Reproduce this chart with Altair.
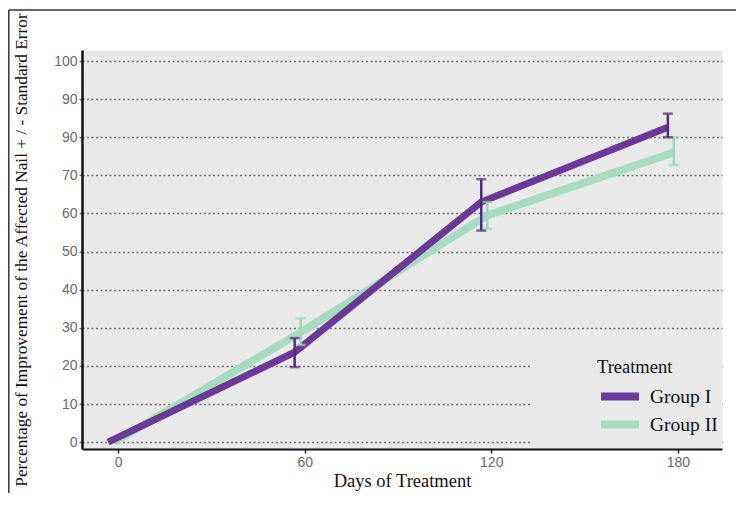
import altair as alt
import pandas as pd

days = [0, 60, 120, 180]
groups = ["Group I", "Group II"]
g1_mean = [0, 23.6, 63, 82.6]
g1_lo = [0, 19.7, 55.5, 80]
g1_hi = [0, 27.3, 69, 86.2]
g2_mean = [0, 28.8, 59.5, 76]
g2_lo = [0, 25.5, 56, 72.7]
g2_hi = [0, 32.5, 63, 80]
y_ticks = [0, 10, 20, 30, 40, 50, 60, 70, 80, 90, 100]
y_tick_labels = ["0", "10", "20", "30", "40", "50", "60", "70", "90", "90", "100"]
x_ticks = [0, 60, 120, 180]

PURPLE = "#6b3a98"
PURPLE_BAR = "#4f2c80"
GREEN = "#a8dcc0"
GREEN_BAR = "#9fd6b8"
BG = "#e9e9e9"

rows = []
for g, m, lo, hi in [("Group I", g1_mean, g1_lo, g1_hi), ("Group II", g2_mean, g2_lo, g2_hi)]:
    for d, a, b, c in zip(days, m, lo, hi):
        rows.append({"day": d, "group": g, "mean": a, "lo": b, "hi": c})
df = pd.DataFrame(rows)

label_expr = " : ".join(
    [f"datum.value == {v} ? '{t}'" for v, t in zip(y_ticks, y_tick_labels)]
) + " : datum.label"

W, H = 640, 399
PAD = {"left": 74, "top": 42, "right": 14, "bottom": 44}

xscale = alt.Scale(domain=[-11.6, 194.2], nice=False, zero=False)
yscale = alt.Scale(domain=[-1.8, 102.9], nice=False, zero=False)

x_axis = alt.Axis(
    values=x_ticks, tickCount=len(x_ticks) + 1, title="Days of Treatment", grid=False,
    labelFont="Liberation Sans", labelFontSize=14, labelColor="#6a6a6a",
    labelPadding=2, tickSize=4, tickColor="#222", tickWidth=1.5,
    domainColor="#111", domainWidth=2, labelOverlap=False,
    titleFont="Liberation Serif", titleFontSize=18.5, titleFontWeight="normal",
    titleColor="#111", titlePadding=2,
)
y_axis = alt.Axis(
    values=y_ticks, tickCount=len(y_ticks) + 1, labelExpr=label_expr, labelOverlap=False,
    title="Percentage of Improvement of the Affected Nail + / - Standard Error",
    grid=True, gridColor="#707070", gridDash=[2, 2.5], gridWidth=1.6,
    labelFont="Liberation Sans", labelFontSize=14, labelColor="#6a6a6a",
    labelPadding=2, tickSize=3, tickColor="#555",
    domainColor="#111", domainWidth=2.5,
    titleFont="Liberation Serif", titleFontSize=17.3, titleFontWeight="normal",
    titleColor="#111", titlePadding=23,
)

one = pd.DataFrame({"k": [0]})
frame_left = alt.Chart(one).mark_rule(color="#333", strokeWidth=1.5, clip=False).encode(
    x=alt.value(-73.2), y=alt.value(-40), y2=alt.value(H + PAD["bottom"])
)
frame_top = alt.Chart(one).mark_rule(color="#333", strokeWidth=1.5, clip=False).encode(
    x=alt.value(-73.2), x2=alt.value(W + PAD["right"]), y=alt.value(-40)
)
cover = alt.Chart(one).mark_rect(fill=BG, clip=False).encode(
    x=alt.value(448), x2=alt.value(W), y=alt.value(298), y2=alt.value(H - 1)
)

base = alt.Chart(df)
color = alt.Color(
    "group:N",
    scale=alt.Scale(domain=groups, range=[PURPLE, GREEN]),
    legend=alt.Legend(
        title="Treatment", orient="none", legendX=515, legendY=308,
        symbolType="stroke", symbolSize=1444, symbolStrokeWidth=8,
        clipHeight=20,
        titleFont="Liberation Serif", titleFontSize=18.5, titleFontWeight="normal",
        titleColor="#111", titlePadding=10,
        labelFont="Liberation Serif", labelFontSize=19.5, labelColor="#111",
        labelOffset=7, rowPadding=8, padding=0,
    ),
)

def group_layers(g, offset, width, bar_color):
    sub = base.transform_filter(alt.datum.group == g)
    line = sub.mark_line(strokeWidth=width, xOffset=offset, strokeCap="butt").encode(
        x=alt.X("day:Q", scale=xscale, axis=x_axis),
        y=alt.Y("mean:Q", scale=yscale, axis=y_axis),
        color=color,
    )
    bars_data = sub.transform_filter(alt.datum.day > 0)
    rule = bars_data.mark_rule(color=bar_color, strokeWidth=2.5, xOffset=offset).encode(
        x="day:Q", y="lo:Q", y2="hi:Q"
    )
    cap_lo = bars_data.mark_tick(color=bar_color, orient="horizontal", size=10,
                                 thickness=2.5, xOffset=offset).encode(x="day:Q", y="lo:Q")
    cap_hi = bars_data.mark_tick(color=bar_color, orient="horizontal", size=10,
                                 thickness=2.5, xOffset=offset).encode(x="day:Q", y="hi:Q")
    return line, [rule, cap_lo, cap_hi]

g2_line, g2_bars = group_layers("Group II", -4, 8, GREEN_BAR)
g1_line, g1_bars = group_layers("Group I", -10, 7, PURPLE_BAR)

chart = alt.layer(
    frame_left, frame_top, cover, g2_line, g1_line, *g2_bars, *g1_bars
).properties(
    width=W, height=H,
    autosize=alt.AutoSizeParams(type="none"),
    padding=PAD,
).configure_view(fill=BG, strokeOpacity=0)

chart.save("out.html", embed_options={"renderer": "svg", "actions": False})
